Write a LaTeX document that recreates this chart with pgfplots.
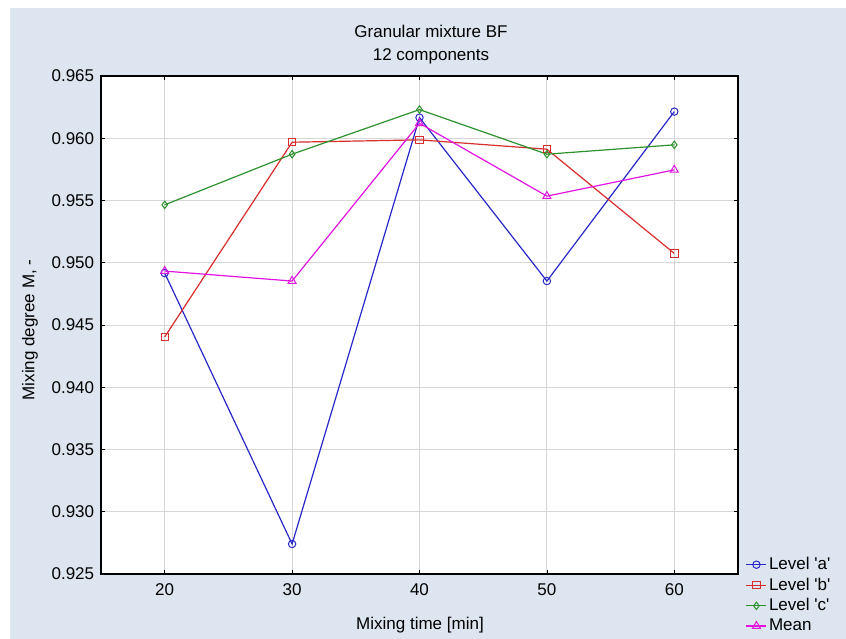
\documentclass[border=0pt]{standalone}
\usepackage{pgfplots}
\pgfplotsset{compat=1.18}
\usepackage{fontspec}
\setmainfont{Liberation Sans}

\definecolor{bgblue}{RGB}{221,229,240}
\definecolor{la}{RGB}{40,40,200}
\definecolor{lb}{RGB}{215,45,45}
\definecolor{lc}{RGB}{45,145,45}
\definecolor{lm}{RGB}{225,20,225}
\definecolor{gridgray}{RGB}{215,215,215}

\begin{document}
\fontsize{17bp}{20bp}\selectfont
\begin{tikzpicture}
% canvas: white frame with blue-grey panel
\fill[white] (0,0) rectangle (846bp,639bp);
\fill[bgblue] (10bp,0) rectangle (846bp,631bp);

\node at (431bp,608bp) {Granular mixture BF};
\node at (431bp,583bp) {12 components};
\node[rotate=90] at (30bp,309bp) {Mixing degree M, -};
\node at (420bp,14bp) {Mixing time [min]};

\begin{axis}[
    at={(101bp,65bp)}, anchor=south west,
    width=637bp, height=498bp, scale only axis,
    xmin=15, xmax=65, ymin=0.925, ymax=0.965,
    xtick={20,30,40,50,60},
    ytick={0.925,0.930,...,0.965},
    axis background/.style={fill=white},
    axis line style={black, line width=1.3bp},
    grid=major,
    major grid style={gridgray, line width=0.9bp},
    tick style={black, line width=0.8bp},
    major tick length=4bp,
    yticklabel style={xshift=-1bp, /pgf/number format/.cd, fixed, fixed zerofill, precision=3},
    /pgf/number format/assume math mode=true,
    xticklabel style={yshift=-4bp},
    every axis plot/.append style={line width=1.2bp, mark size=3.7bp, mark options={solid, line width=1bp, fill=none}},
    legend style={at={(rel axis cs:1.012,0.038)}, anchor=north west, draw=none, fill=none,
        row sep=1.7bp, inner xsep=0bp, inner ysep=0bp, font=\fontsize{17bp}{20bp}\selectfont},
    legend cell align=left,
    legend image code/.code={\draw[mark repeat=2,mark phase=2] plot coordinates {(0bp,0bp)(10bp,0bp)(20bp,0bp)};},
]
\addplot[la, mark=o] coordinates {(20,0.94917) (30,0.92741) (40,0.96166) (50,0.94853) (60,0.96214)};
\addplot[lb, mark=square] coordinates {(20,0.94404) (30,0.95968) (40,0.95987) (50,0.95912) (60,0.95075)};
\addplot[lc, mark=diamond] coordinates {(20,0.95465) (30,0.95872) (40,0.96230) (50,0.95872) (60,0.95947)};
\addplot[lm, mark=triangle, mark size=4.6bp] coordinates {(20,0.94933) (30,0.94853) (40,0.96120) (50,0.95535) (60,0.95746)};
\legend{Level \textquotesingle a\textquotesingle,Level \textquotesingle b\textquotesingle,Level \textquotesingle c\textquotesingle,Mean}
\end{axis}
\end{tikzpicture}
\end{document}
